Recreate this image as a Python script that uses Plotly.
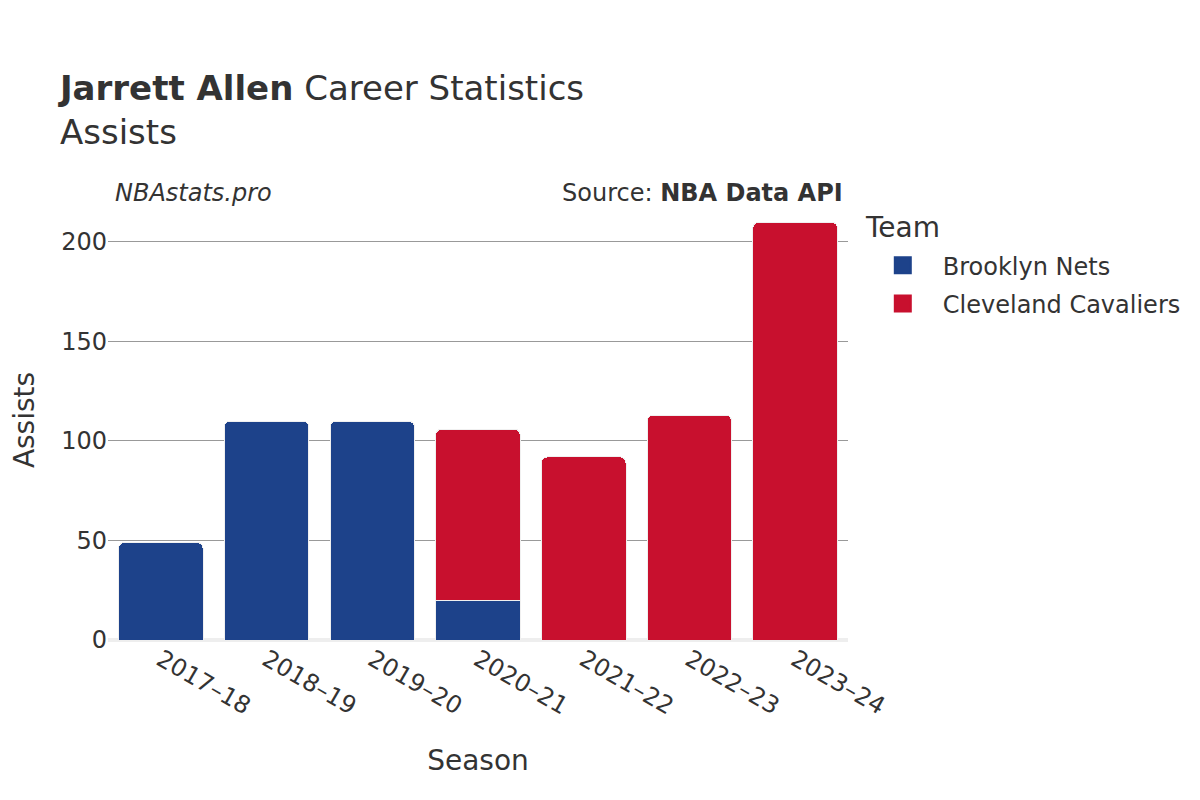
import plotly.graph_objects as go

seasons = ["2017–18", "2018–19", "2019–20", "2020–21", "2021–22", "2022–23", "2023–24"]

nets_seasons = ["2017–18", "2018–19", "2019–20", "2020–21"]
nets_assists = [49, 110, 110, 20]

cavs_seasons = ["2020–21", "2021–22", "2022–23", "2023–24"]
cavs_assists = [86, 92, 113, 210]

TEAM_COLORS = {
    "Brooklyn Nets": "#1D428A",
    "Cleveland Cavaliers": "#C8102E",
}

FONT = "DejaVu Sans, sans-serif"
TEXT = "#333333"

fig = go.Figure()
for team, xs, ys in [
    ("Brooklyn Nets", nets_seasons, nets_assists),
    ("Cleveland Cavaliers", cavs_seasons, cavs_assists),
]:
    fig.add_trace(go.Bar(
        x=xs, y=ys, name=team, legendgroup=team, showlegend=False,
        marker=dict(color=TEAM_COLORS[team], line=dict(color="#f0f0f0", width=1)),
    ))

# legend-only entries so the swatches come out as big squares like the original
for team in TEAM_COLORS:
    fig.add_trace(go.Scatter(
        x=[None], y=[None], mode="markers", name=team, legendgroup=team,
        marker=dict(symbol="square", size=19, color=TEAM_COLORS[team],
                    line=dict(color=TEAM_COLORS[team], width=2)),
    ))

# watermark + source line sitting just above the plot area
fig.add_annotation(x=0.007, y=0.979, xref="paper", yref="paper", xanchor="left", yanchor="bottom",
                   text="<i>NBAstats.pro</i>", showarrow=False, font=dict(size=24, color=TEXT, family=FONT))
fig.add_annotation(x=0.996, y=0.979, xref="paper", yref="paper", xanchor="right", yanchor="bottom",
                   text="Source: <b>NBA Data API</b>", showarrow=False, font=dict(size=24, color=TEXT, family=FONT))
# legend heading, placed by hand so the item spacing can be loosened
fig.add_annotation(x=1.02, y=0.9386, xref="paper", yref="paper", xanchor="left", yanchor="middle",
                   text="Team", showarrow=False, font=dict(size=28, color=TEXT, family=FONT))

fig.update_layout(
    width=1200, height=800,
    barmode="stack", bargap=0.2, barcornerradius=6,
    paper_bgcolor="white", plot_bgcolor="white",
    font=dict(family=FONT, color=TEXT, size=24),
    title=dict(text="<b>Jarrett Allen</b> Career Statistics<br>Assists",
               x=0.0433, xanchor="left", y=0.885, yanchor="top",
               font=dict(size=34, color=TEXT, family=FONT)),
    margin=dict(l=100, r=360, t=192, b=168),
    legend=dict(x=1.02, y=0.902, yanchor="top", font=dict(size=24),
                traceorder="grouped", tracegroupgap=4, itemwidth=70),
    xaxis=dict(title=dict(text="Season", font=dict(size=28), standoff=30),
               categoryorder="array", categoryarray=seasons,
               tickangle=30, tickfont=dict(size=24), showgrid=False),
    yaxis=dict(title=dict(text="Assists", font=dict(size=28), standoff=45), tickfont=dict(size=24),
               automargin=False,
               gridcolor="#999999", gridwidth=1, zeroline=True, zerolinecolor="#eeeeee",
               zerolinewidth=4, dtick=50),
)

fig.write_html("out.html")
